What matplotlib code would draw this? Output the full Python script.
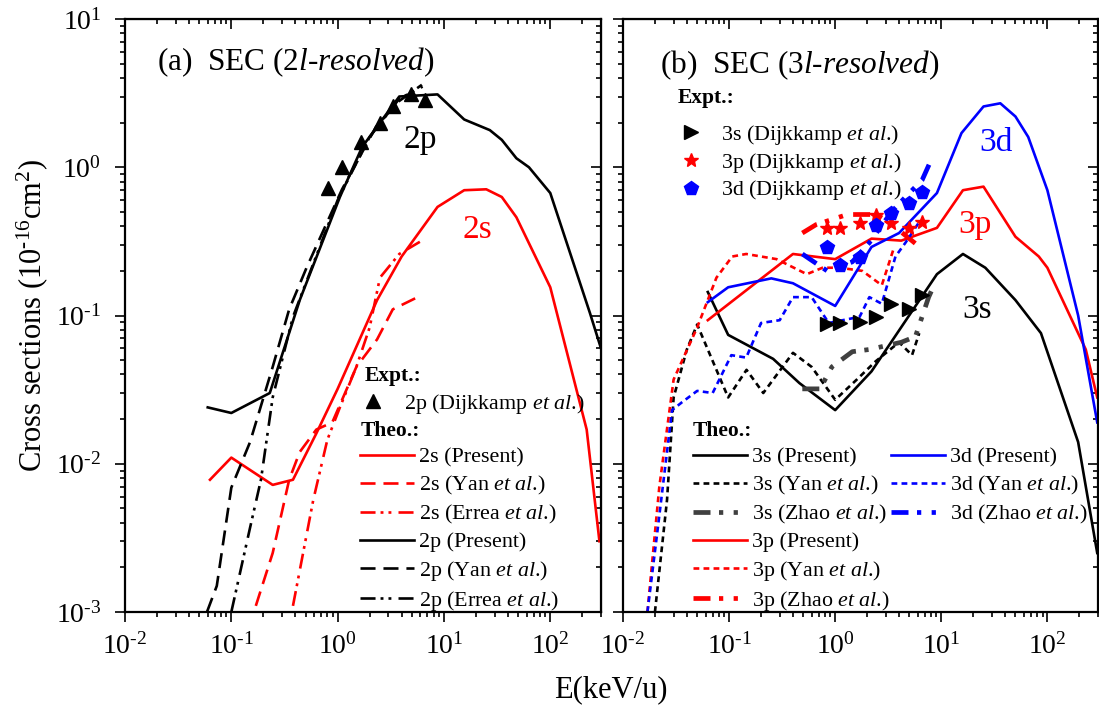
import matplotlib
matplotlib.use("Agg")
import numpy as np
import matplotlib.pyplot as plt
from matplotlib.lines import Line2D
from matplotlib.ticker import LogLocator, NullFormatter, FuncFormatter

plt.rcParams['font.family'] = 'Liberation Serif'
plt.rcParams['mathtext.fontset'] = 'custom'
plt.rcParams['mathtext.rm'] = 'Liberation Serif'
plt.rcParams['mathtext.it'] = 'Liberation Serif:italic'
plt.rcParams['mathtext.bf'] = 'Liberation Serif:bold'

# ---- panel (a): 2l-resolved ----
e_2s_pres = [0.063, 0.1, 0.245, 0.38, 0.63, 1.0, 2.35, 4.0, 8.7, 15.5, 25, 35, 48, 100, 220, 290]
s_2s_pres = [0.0078, 0.011, 0.0072, 0.0078, 0.016, 0.032, 0.127, 0.25, 0.54, 0.70, 0.71, 0.63, 0.46, 0.155, 0.017, 0.003]
e_2s_yan = [0.17, 0.245, 0.35, 0.44, 0.63, 0.89, 1.5, 2.35, 3.3, 5.9]
s_2s_yan = [0.0011, 0.0025, 0.0078, 0.012, 0.017, 0.019, 0.045, 0.069, 0.11, 0.135]
e_2s_errea = [0.38, 0.59, 0.8, 1.05, 1.5, 2.0, 2.5, 3.8, 6.2]
s_2s_errea = [0.0011, 0.0057, 0.0145, 0.024, 0.045, 0.083, 0.18, 0.26, 0.32]
e_2p_pres = [0.06, 0.1, 0.23, 0.44, 1.05, 1.7, 3.8, 8.7, 15.5, 27, 35, 48, 63, 100, 236, 300]
s_2p_pres = [0.024, 0.022, 0.030, 0.127, 0.63, 1.37, 3.0, 3.1, 2.1, 1.78, 1.53, 1.15, 1.0, 0.67, 0.104, 0.06]
e_2p_yan = [0.059, 0.073, 0.10, 0.15, 0.245, 0.35, 0.51, 1.1, 2.3, 3.8, 6.2]
s_2p_yan = [0.001, 0.0015, 0.0069, 0.014, 0.045, 0.11, 0.21, 0.71, 1.88, 2.8, 3.6]
e_2p_errea = [0.1, 0.15, 0.19, 0.245, 0.38, 1.0, 2.0, 3.8, 6.3]
s_2p_errea = [0.001, 0.0037, 0.0078, 0.028, 0.098, 0.6, 1.6, 2.9, 3.5]
e_2p_dijk = [0.81, 1.1, 1.67, 2.5, 3.3, 4.9, 6.6]
s_2p_dijk = [0.72, 1.0, 1.48, 2.0, 2.6, 3.1, 2.85]

# ---- panel (b): 3l-resolved ----
e_3s_pres = [0.063, 0.098, 0.26, 0.46, 1.0, 2.2, 9.1, 16, 26, 50, 87, 195, 295]
s_3s_pres = [0.144, 0.074, 0.051, 0.035, 0.023, 0.042, 0.19, 0.26, 0.21, 0.127, 0.076, 0.014, 0.0025]
e_3s_yan = [0.02, 0.026, 0.03, 0.04, 0.05, 0.098, 0.146, 0.21, 0.4, 0.6, 1.0, 1.6, 2.4, 4.0, 5.3, 6.2]
s_3s_yan = [0.001, 0.0057, 0.028, 0.059, 0.087, 0.028, 0.043, 0.030, 0.056, 0.045, 0.027, 0.037, 0.049, 0.066, 0.054, 0.076]
e_3s_zhao = [0.49, 0.72, 0.93, 1.45, 2.1, 4.2, 5.7, 7.6, 8.2]
s_3s_zhao = [0.032, 0.032, 0.045, 0.057, 0.059, 0.066, 0.072, 0.133, 0.15]
e_3p_pres = [0.063, 0.4, 1.0, 2.2, 4.2, 9.1, 16, 25, 50, 83, 100, 230, 295]
s_3p_pres = [0.093, 0.26, 0.24, 0.33, 0.32, 0.39, 0.70, 0.74, 0.34, 0.25, 0.21, 0.059, 0.028]
e_3p_yan = [0.017, 0.022, 0.03, 0.05, 0.076, 0.107, 0.145, 0.28, 0.54, 0.76, 1.1, 1.8, 2.75, 3.6]
s_3p_yan = [0.001, 0.007, 0.037, 0.083, 0.18, 0.25, 0.26, 0.24, 0.19, 0.21, 0.21, 0.2, 0.16, 0.29]
e_3p_zhao = [0.49, 0.66, 1.3, 2.45, 3.3, 5.9]
s_3p_zhao = [0.36, 0.41, 0.48, 0.48, 0.42, 0.30]
e_3d_pres = [0.063, 0.098, 0.25, 0.4, 1.0, 2.2, 4.0, 9.1, 15.5, 25, 36, 50, 66, 100, 195, 295]
s_3d_pres = [0.123, 0.155, 0.178, 0.165, 0.116, 0.29, 0.36, 0.67, 1.7, 2.57, 2.7, 2.2, 1.6, 0.7, 0.1, 0.019]
e_3d_yan = [0.017, 0.021, 0.029, 0.036, 0.05, 0.07, 0.105, 0.145, 0.2, 0.3, 0.4, 0.6, 0.87, 1.7, 2.1, 2.75, 3.7, 4.6, 6.1]
s_3d_yan = [0.001, 0.0034, 0.023, 0.026, 0.031, 0.030, 0.054, 0.052, 0.089, 0.093, 0.133, 0.133, 0.089, 0.098, 0.133, 0.12, 0.25, 0.31, 0.42]
e_3d_zhao = [0.49, 0.84, 1.45, 2.1, 3.4, 4.6, 6.6, 7.8]
s_3d_zhao = [0.26, 0.2, 0.23, 0.31, 0.5, 0.63, 0.82, 1.07]
e_3l_dijk = [0.83, 1.1, 1.7, 2.45, 3.35, 5.0, 6.6]
s_3s_dijk = [0.087, 0.089, 0.091, 0.098, 0.12, 0.11, 0.137]
s_3p_dijk = [0.39, 0.39, 0.42, 0.48, 0.42, 0.39, 0.43]
s_3d_dijk = [0.29, 0.22, 0.25, 0.41, 0.49, 0.575, 0.68]

HY = '\u2010'
ETAL = r'$\mathit{et\ al}$.)'
LW = 1.9
YAN_A = (5.7, 3.0)
ERREA = (5.7, 1.9, 1.1, 1.9, 1.1, 2.7)
YAN_B = (2.2, 1.6)
ZHAO = (3.6, 1.8, 0.9, 2.2, 0.9, 2.2)
GREY = '#404040'

fig = plt.figure(figsize=(10.99, 7.13), dpi=100)
W, H = 1099, 713
axa = fig.add_axes([125 / W, 1 - 612 / H, 476 / W, 593 / H])
axb = fig.add_axes([623 / W, 1 - 612 / H, 475 / W, 593 / H])


def pow_label(v, pos):
    n = int(round(np.log10(v)))
    return r'$10^{\mathrm{%s}}$' % str(n).replace('-', HY)


def style(ax, ylabels):
    ax.set_xscale('log')
    ax.set_yscale('log')
    ax.set_xlim(0.01, 300)
    ax.set_ylim(1e-3, 10)
    for sp in ax.spines.values():
        sp.set_linewidth(1.6)
    for axis in (ax.xaxis, ax.yaxis):
        axis.set_major_locator(LogLocator(base=10, numticks=20))
        axis.set_minor_locator(LogLocator(base=10, subs=range(2, 10), numticks=50))
        axis.set_major_formatter(FuncFormatter(pow_label))
        axis.set_minor_formatter(NullFormatter())
    ax.tick_params(which='both', direction='out', width=1.2, labelsize=20,
                   top=False, right=False)
    ax.tick_params(which='major', length=7)
    ax.tick_params(which='minor', length=3.6)
    ax.tick_params(axis='x', which='major', pad=8)
    ax.tick_params(axis='y', which='major', pad=10)
    if not ylabels:
        ax.yaxis.set_major_formatter(NullFormatter())
    sx = ax.secondary_xaxis('top')
    sy = ax.secondary_yaxis('right')
    for s, axis in ((sx, sx.xaxis), (sy, sy.yaxis)):
        axis.set_major_locator(LogLocator(base=10, numticks=20))
        axis.set_minor_locator(LogLocator(base=10, subs=range(2, 10), numticks=50))
        axis.set_major_formatter(NullFormatter())
        axis.set_minor_formatter(NullFormatter())
        s.tick_params(which='both', direction='in', width=1.2)
        s.tick_params(which='major', length=7.5)
        s.tick_params(which='minor', length=3.6)


style(axa, True)
style(axb, False)

# panel (a)
axa.plot(e_2s_pres, s_2s_pres, color='red', lw=LW, label='2s (Present)')
axa.plot(e_2s_yan, s_2s_yan, color='red', lw=LW, dashes=YAN_A, label='2s (Yan ' + ETAL)
axa.plot(e_2s_errea, s_2s_errea, color='red', lw=LW, dashes=ERREA, label='2s (Errea ' + ETAL)
axa.plot(e_2p_pres, s_2p_pres, color='black', lw=LW, label='2p (Present)')
axa.plot(e_2p_yan, s_2p_yan, color='black', lw=LW, dashes=YAN_A, label='2p (Yan ' + ETAL)
axa.plot(e_2p_errea, s_2p_errea, color='black', lw=LW, dashes=ERREA, label='2p (Errea ' + ETAL)
dk_a = axa.plot(e_2p_dijk, s_2p_dijk, ls='none', marker='^', ms=9.5, color='black',
                label='2p (Dijkkamp ' + ETAL)[0]

# panel (b)
lb = {}
lb['3sP'] = axb.plot(e_3s_pres, s_3s_pres, color='black', lw=LW, label='3s (Present)')[0]
lb['3sY'] = axb.plot(e_3s_yan, s_3s_yan, color='black', lw=LW, dashes=YAN_B, label='3s (Yan ' + ETAL)[0]
lb['3sZ'] = axb.plot(e_3s_zhao, s_3s_zhao, color=GREY, lw=3.4, dashes=ZHAO, label='3s (Zhao ' + ETAL)[0]
lb['3pP'] = axb.plot(e_3p_pres, s_3p_pres, color='red', lw=LW, label='3p (Present)')[0]
lb['3pY'] = axb.plot(e_3p_yan, s_3p_yan, color='red', lw=LW, dashes=YAN_B, label='3p (Yan ' + ETAL)[0]
lb['3pZ'] = axb.plot(e_3p_zhao, s_3p_zhao, color='red', lw=3.4, dashes=ZHAO, label='3p (Zhao ' + ETAL)[0]
lb['3dP'] = axb.plot(e_3d_pres, s_3d_pres, color='blue', lw=LW, label='3d (Present)')[0]
lb['3dY'] = axb.plot(e_3d_yan, s_3d_yan, color='blue', lw=LW, dashes=YAN_B, label='3d (Yan ' + ETAL)[0]
lb['3dZ'] = axb.plot(e_3d_zhao, s_3d_zhao, color='blue', lw=3.4, dashes=ZHAO, label='3d (Zhao ' + ETAL)[0]
m3s = axb.plot(e_3l_dijk, s_3s_dijk, ls='none', marker='>', ms=9.5, color='black',
               label='3s (Dijkkamp ' + ETAL)[0]
m3p = axb.plot(e_3l_dijk, s_3p_dijk, ls='none', marker='*', ms=10.5, color='red',
               label='3p (Dijkkamp ' + ETAL)[0]
m3d = axb.plot(e_3l_dijk, s_3d_dijk, ls='none', marker='p', ms=10, color='blue',
               label='3d (Dijkkamp ' + ETAL)[0]

# annotations
axa.text(0.067, 0.927, r'(a)  SEC ($\mathit{2l}$' + HY + r'$\mathit{resolved}$)', transform=axa.transAxes,
         fontsize=22.5, va='center', ha='left')
axb.text(0.078, 0.922, r'(b)  SEC ($\mathit{3l}$' + HY + r'$\mathit{resolved}$)', transform=axb.transAxes,
         fontsize=22.5, va='center', ha='left')
axa.text(6.0, 1.53, '2p', fontsize=24, color='black', ha='center', va='center')
axa.text(20.6, 0.38, '2s', fontsize=24, color='red', ha='center', va='center')
axb.text(33, 1.46, '3d', fontsize=24, color='blue', ha='center', va='center')
axb.text(20.6, 0.41, '3p', fontsize=24, color='red', ha='center', va='center')
axb.text(21.8, 0.11, '3s', fontsize=24, color='black', ha='center', va='center')

title_fp = {'weight': 'bold', 'size': 15.5}
common = dict(frameon=False, fontsize=15.8, borderpad=0, borderaxespad=0,
              labelspacing=0.28, alignment='left', title_fontproperties=title_fp)

lga1 = axa.legend(handles=[dk_a], title='Expt.:', loc='upper left', bbox_to_anchor=(0.504, 0.415),
                  handlelength=0.7, handletextpad=1.1, **common)
axa.add_artist(lga1)
hs = axa.get_lines()[:6]
axa.legend(handles=hs, title='Theo.:', loc='upper left', bbox_to_anchor=(0.494, 0.322),
           handlelength=2.45, handletextpad=0.25, **common)

axb.text(0.116, 0.867, 'Expt.:', transform=axb.transAxes, fontsize=15.5, fontweight='bold',
         ha='left', va='center')
lgb1 = axb.legend(handles=[m3s, m3p, m3d], loc='upper left', bbox_to_anchor=(0.118, 0.825),
                  frameon=False, fontsize=15.8, borderpad=0, borderaxespad=0, labelspacing=0.17,
                  handlelength=1.1, handletextpad=0.8)
axb.add_artist(lgb1)
blank = Line2D([], [], ls='none')
hb = [lb['3sP'], lb['3sY'], lb['3sZ'], lb['3pP'], lb['3pY'], lb['3pZ'],
      lb['3dP'], lb['3dY'], lb['3dZ'], blank, blank, blank]
labs = [h.get_label() for h in hb[:9]] + ['', '', '']
axb.legend(hb, labs, title='Theo.:', loc='upper left', bbox_to_anchor=(0.147, 0.322),
           ncol=2, columnspacing=0.05, handlelength=2.45, handletextpad=0.25, **common)

axa.set_ylabel(r'Cross sections (10$^{\mathrm{' + HY + r'16}}$cm$^{2}$)', fontsize=22, labelpad=4)
fig.text(611 / W, 1 - 690 / H, 'E(keV/u)', fontsize=22, ha='center', va='center')

fig.savefig('out.png', dpi=100)
